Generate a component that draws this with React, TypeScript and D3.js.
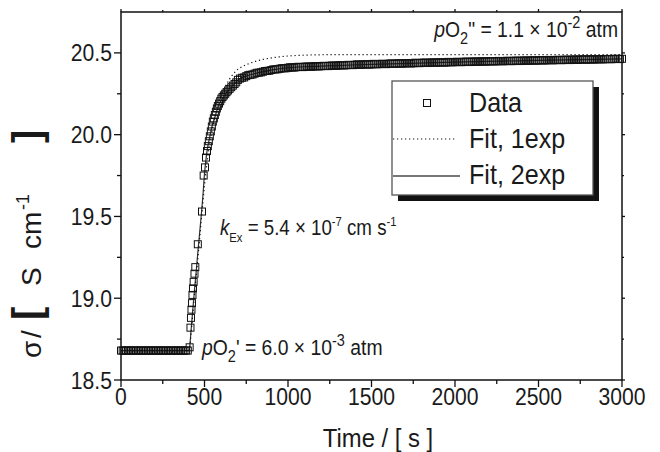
import React from 'react';
import * as d3 from 'd3';

// time [s], sigma [S/cm]
const baselineData: [number, number][] = [
  [0, 18.68], [10, 18.68], [20, 18.68], [30, 18.68], [40, 18.68], [50, 18.68], [60, 18.68], [70, 18.68],
  [80, 18.68], [90, 18.68], [100, 18.68], [110, 18.68], [120, 18.68], [130, 18.68], [140, 18.68], [150, 18.68],
  [160, 18.68], [170, 18.68], [180, 18.68], [190, 18.68], [200, 18.68], [210, 18.68], [220, 18.68], [230, 18.68],
  [240, 18.68], [250, 18.68], [260, 18.68], [270, 18.68], [280, 18.68], [290, 18.68], [300, 18.68], [310, 18.68],
  [320, 18.68], [330, 18.68], [340, 18.68], [350, 18.68], [360, 18.68], [370, 18.68], [380, 18.68], [390, 18.68],
  [400, 18.68],
];

const riseData: [number, number][] = [
  [411, 18.70], [416, 18.82], [419, 18.88], [422, 18.93], [425, 18.97], [428, 19.02], [431, 19.06], [435, 19.10],
  [440, 19.15], [445, 19.19], [460, 19.33], [485, 19.53], [495, 19.75], [503, 19.80], [509, 19.86], [515, 19.90],
  [520, 19.93], [526, 19.96], [532, 19.99], [538, 20.02], [544, 20.05], [550, 20.08], [556, 20.10], [562, 20.12],
  [568, 20.14], [574, 20.16], [580, 20.175], [587, 20.19], [594, 20.205], [601, 20.22], [608, 20.23], [616, 20.24],
  [624, 20.25], [632, 20.26], [641, 20.27], [650, 20.28], [660, 20.29], [670, 20.30], [680, 20.31], [690, 20.32],
];

const plateauData: [number, number][] = [
  [700, 20.335], [725, 20.348], [750, 20.358], [775, 20.366], [800, 20.373], [825, 20.379], [850, 20.385], [875, 20.39],
  [900, 20.395], [925, 20.399], [950, 20.403], [975, 20.406], [1000, 20.409], [1025, 20.411], [1050, 20.413], [1075, 20.414],
  [1100, 20.415], [1125, 20.416], [1150, 20.417], [1175, 20.418], [1200, 20.419], [1225, 20.42], [1250, 20.421], [1275, 20.422],
  [1300, 20.423], [1325, 20.424], [1350, 20.425], [1375, 20.426], [1400, 20.427], [1425, 20.428], [1450, 20.429], [1475, 20.43],
  [1500, 20.43], [1525, 20.431], [1550, 20.432], [1575, 20.432], [1600, 20.433], [1625, 20.434], [1650, 20.435], [1675, 20.435],
  [1700, 20.436], [1725, 20.437], [1750, 20.437], [1775, 20.438], [1800, 20.439], [1825, 20.44], [1850, 20.44], [1875, 20.441],
  [1900, 20.441], [1925, 20.442], [1950, 20.442], [1975, 20.443], [2000, 20.444], [2025, 20.444], [2050, 20.445], [2075, 20.446],
  [2100, 20.446], [2125, 20.447], [2150, 20.447], [2175, 20.448], [2200, 20.448], [2225, 20.449], [2250, 20.449], [2275, 20.45],
  [2300, 20.45], [2325, 20.451], [2350, 20.451], [2375, 20.452], [2400, 20.452], [2425, 20.453], [2450, 20.453], [2475, 20.454],
  [2500, 20.454], [2525, 20.455], [2550, 20.455], [2575, 20.456], [2600, 20.456], [2625, 20.457], [2650, 20.457], [2675, 20.458],
  [2700, 20.458], [2725, 20.459], [2750, 20.459], [2775, 20.46], [2800, 20.46], [2825, 20.46], [2850, 20.461], [2875, 20.461],
  [2900, 20.462], [2925, 20.462], [2950, 20.463], [2975, 20.463], [3000, 20.464],
];

// the in-between samples of the plateau (noisier)
const plateauData2: [number, number][] = [
  [712.5, 20.343], [737.5, 20.35], [762.5, 20.364], [787.5, 20.368], [812.5, 20.378], [837.5, 20.381], [862.5, 20.389], [887.5, 20.391],
  [912.5, 20.399], [937.5, 20.4], [962.5, 20.406], [987.5, 20.406], [1012.5, 20.412], [1037.5, 20.41], [1062.5, 20.415], [1087.5, 20.413],
  [1112.5, 20.417], [1137.5, 20.415], [1162.5, 20.419], [1187.5, 20.417], [1212.5, 20.421], [1237.5, 20.419], [1262.5, 20.423], [1287.5, 20.421],
  [1312.5, 20.425], [1337.5, 20.423], [1362.5, 20.427], [1387.5, 20.425], [1412.5, 20.43], [1437.5, 20.427], [1462.5, 20.431], [1487.5, 20.428],
  [1512.5, 20.433], [1537.5, 20.43], [1562.5, 20.434], [1587.5, 20.431], [1612.5, 20.436], [1637.5, 20.433], [1662.5, 20.437], [1687.5, 20.434],
  [1712.5, 20.438], [1737.5, 20.435], [1762.5, 20.44], [1787.5, 20.437], [1812.5, 20.441], [1837.5, 20.438], [1862.5, 20.442], [1887.5, 20.44],
  [1912.5, 20.443], [1937.5, 20.44], [1962.5, 20.445], [1987.5, 20.442], [2012.5, 20.446], [2037.5, 20.443], [2062.5, 20.447], [2087.5, 20.444],
  [2112.5, 20.448], [2137.5, 20.445], [2162.5, 20.449], [2187.5, 20.446], [2212.5, 20.45], [2237.5, 20.447], [2262.5, 20.451], [2287.5, 20.448],
  [2312.5, 20.452], [2337.5, 20.449], [2362.5, 20.453], [2387.5, 20.45], [2412.5, 20.454], [2437.5, 20.451], [2462.5, 20.455], [2487.5, 20.452],
  [2512.5, 20.456], [2537.5, 20.453], [2562.5, 20.457], [2587.5, 20.454], [2612.5, 20.458], [2637.5, 20.455], [2662.5, 20.459], [2687.5, 20.456],
  [2712.5, 20.46], [2737.5, 20.457], [2762.5, 20.461], [2787.5, 20.458], [2812.5, 20.461], [2837.5, 20.459], [2862.5, 20.462], [2887.5, 20.46],
  [2912.5, 20.463], [2937.5, 20.461], [2962.5, 20.464], [2987.5, 20.462],
];

const fit1exp: [number, number][] = [
  [0, 18.68], [408, 18.68], [420, 18.79], [440, 19.02], [460, 19.24], [480, 19.47], [500, 19.69], [520, 19.87],
  [540, 20.0], [560, 20.1], [580, 20.18], [600, 20.24], [625, 20.295], [650, 20.34], [675, 20.375], [700, 20.4],
  [725, 20.415], [750, 20.428], [775, 20.438], [800, 20.447], [850, 20.46], [900, 20.469], [950, 20.476], [1000, 20.481],
  [1100, 20.486], [1250, 20.489], [3000, 20.49],
];

const fit2exp: [number, number][] = [
  [0, 18.68], [405, 18.68], [411, 18.7], [420, 18.81], [430, 18.93], [440, 19.05], [450, 19.16], [460, 19.28],
  [470, 19.39], [480, 19.5], [490, 19.62], [500, 19.76], [510, 19.86], [520, 19.93], [530, 19.98], [540, 20.03],
  [550, 20.07], [560, 20.1], [575, 20.15], [590, 20.19], [610, 20.225], [630, 20.255], [650, 20.28], [675, 20.305],
  [700, 20.335], [750, 20.358], [800, 20.373], [900, 20.395], [1000, 20.409], [1200, 20.419], [1500, 20.43],
  [2000, 20.444], [2500, 20.454], [3000, 20.464],
];

const xMajor = [0, 500, 1000, 1500, 2000, 2500, 3000];
const xMinor = [250, 750, 1250, 1750, 2250, 2750];
const yMajor = [18.5, 19.0, 19.5, 20.0, 20.5];
const yMinor = [18.75, 19.25, 19.75, 20.25];
const legendLabels = ['Data', 'Fit, 1exp', 'Fit, 2exp'];

const FONT = '"Liberation Sans", Arial, sans-serif';
const SX = 0.9; // the original lettering is a bit condensed

type Seg = { t: string; sub?: boolean; sup?: boolean; it?: boolean; size?: number; bold?: boolean };

function Rich(props: { x: number; y: number; size: number; segs: Seg[]; anchor?: string; ss?: number; sx?: number }) {
  const { x, y, size, segs, anchor } = props;
  const ss = props.ss || 0.7;
  const sx = props.sx || SX;
  let cur = 0;
  return (
    <text x={0} y={0} fontSize={size} textAnchor={anchor || 'start'} transform={`translate(${x},${y}) scale(${sx},1)`}
      fontFamily={FONT} fill="#1a1a1a" style={{ whiteSpace: 'pre' }}>
      {segs.map((s, i) => {
        const off = s.sub ? size * 0.32 : s.sup ? -size * 0.42 : 0;
        const dy = off - cur;
        cur = off;
        return (
          <tspan key={i} dy={dy} fontSize={s.sub || s.sup ? size * ss : s.size || size}
            fontStyle={s.it ? 'italic' : undefined} fontWeight={s.bold ? 'bold' : undefined}>{s.t}</tspan>
        );
      })}
    </text>
  );
}

export default function App() {
  const left = 121, right = 622, top = 12, bottom = 380;
  const x = d3.scaleLinear().domain([0, 3000]).range([left, right]);
  const y = d3.scaleLinear().domain([18.5, 20.75]).range([bottom, top]);

  const line = d3.line<[number, number]>().x(d => x(d[0])).y(d => y(d[1])).curve(d3.curveMonotoneX);

  const allData = [...baselineData, ...riseData, ...plateauData, ...plateauData2];
  const sq = 7;

  const lx = 392, ly = 81, lw = 201, lh = 114;

  return (
    <svg width={660} height={452} style={{ position: 'absolute', left: 0, top: 0, background: '#fff' }}>
      <rect width={660} height={452} fill="#fff" />
      {/* fits */}
      <path d={line(fit2exp) || ''} fill="none" stroke="#333" strokeWidth={1.2} />
      <path d={line(fit1exp) || ''} fill="none" stroke="#111" strokeWidth={1.2} strokeDasharray="1.2,2.8" />
      {/* data */}
      <g fill="none" stroke="#111" strokeWidth={1}>
        {allData.map((d, i) => (
          <rect key={i} x={x(d[0]) - sq / 2} y={y(d[1]) - sq / 2} width={sq} height={sq} />
        ))}
      </g>

      {/* frame */}
      <rect x={left} y={top} width={right - left} height={bottom - top} fill="none" stroke="#111" strokeWidth={1.5} />

      {/* ticks */}
      <g stroke="#111" strokeWidth={1.3}>
        {xMajor.map(v => <line key={'xb' + v} x1={x(v)} x2={x(v)} y1={bottom} y2={bottom + 7} />)}
        {xMinor.map(v => <line key={'xm' + v} x1={x(v)} x2={x(v)} y1={bottom} y2={bottom + 4} />)}
        {xMajor.map(v => <line key={'xt' + v} x1={x(v)} x2={x(v)} y1={top} y2={top - 3} />)}
        {xMinor.map(v => <line key={'xtm' + v} x1={x(v)} x2={x(v)} y1={top} y2={top - 2} />)}
        {yMajor.map(v => <line key={'yl' + v} x1={left} x2={left - 7} y1={y(v)} y2={y(v)} />)}
        {yMinor.map(v => <line key={'ylm' + v} x1={left} x2={left - 4} y1={y(v)} y2={y(v)} />)}
        {yMajor.map(v => <line key={'yr' + v} x1={right} x2={right + 3} y1={y(v)} y2={y(v)} />)}
        {yMinor.map(v => <line key={'yrm' + v} x1={right} x2={right + 2} y1={y(v)} y2={y(v)} />)}
      </g>
      <g fontFamily={FONT} fontSize={23.5} fill="#1a1a1a">
        {xMajor.map(v => (
          <text key={'xl' + v} transform={`translate(${x(v)},405) scale(${SX},1)`} textAnchor="middle">{v}</text>
        ))}
        {yMajor.map(v => (
          <text key={'yl' + v} transform={`translate(112,${y(v) + 8.5}) scale(${SX},1)`} textAnchor="end">{d3.format('.1f')(v)}</text>
        ))}
      </g>

      {/* axis titles */}
      <Rich x={378} y={447} size={26.5} anchor="middle" segs={[{ t: 'Time / [ s ]' }]} />
      <g transform="translate(41,0) rotate(-90)" fontFamily={FONT} fill="#1a1a1a">
        <text x={-358} y={0} fontSize={28}>σ</text>
        <text x={-338} y={0} fontSize={28}>/</text>
        <text x={-320} y={0} fontSize={40} fontWeight="bold">[</text>
        <text x={-286} y={0} fontSize={28}>S</text>
        <text x={-249} y={0} fontSize={28}>cm</text>
        <text x={-210} y={-12} fontSize={18}>-1</text>
        <text x={-143} y={0} fontSize={40} fontWeight="bold">]</text>
      </g>

      {/* annotations */}
      <Rich x={618} y={37} size={21.5} anchor="end" ss={0.75}
        segs={[{ t: 'p', it: true }, { t: 'O' }, { t: '2', sub: true }, { t: '" = 1.1 × 10' }, { t: '-2', sup: true }, { t: ' atm' }]} />
      <Rich x={220} y={235} size={21.5} ss={0.6} sx={0.87}
        segs={[{ t: 'k', it: true }, { t: 'Ex', sub: true }, { t: ' = 5.4 × 10' }, { t: '-7', sup: true }, { t: ' cm s' }, { t: '-1', sup: true }]} />
      <Rich x={202} y={355} size={21.5} ss={0.75}
        segs={[{ t: 'p', it: true }, { t: 'O' }, { t: '2', sub: true }, { t: "' = 6.0 × 10" }, { t: '-3', sup: true }, { t: ' atm' }]} />

      {/* legend */}
      <rect x={lx + 6} y={ly + 6} width={lw} height={lh} fill="#111" />
      <rect x={lx} y={ly} width={lw} height={lh} fill="#fff" stroke="#555" strokeWidth={1.3} />
      <rect x={427 - 3.5} y={103 - 3.5} width={7} height={7} fill="none" stroke="#111" strokeWidth={1} />
      <line x1={lx + 1} x2={457} y1={139} y2={139} stroke="#111" strokeWidth={1.2} strokeDasharray="1.2,2.8" />
      <line x1={lx + 1} x2={460} y1={176} y2={176} stroke="#777" strokeWidth={2} />
      <g fontFamily={FONT} fontSize={27} fill="#1a1a1a">
        {legendLabels.map((l, i) => (
          <text key={l} transform={`translate(469,${112 + i * 36}) scale(0.93,1)`}>{l}</text>
        ))}
      </g>
    </svg>
  );
}
